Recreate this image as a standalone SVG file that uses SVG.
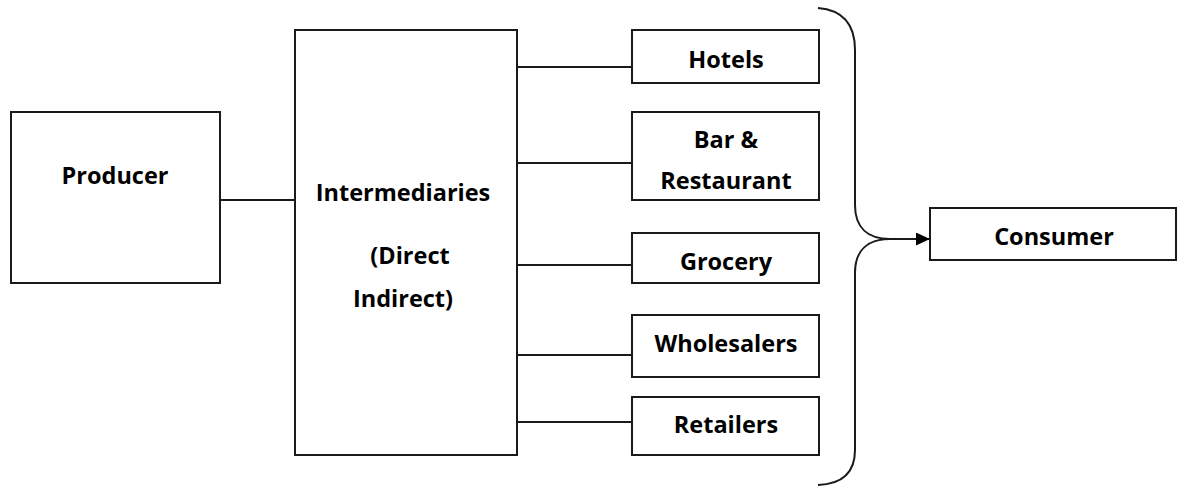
<svg xmlns="http://www.w3.org/2000/svg" width="1177" height="486" viewBox="0 0 1177 486">
<style>
.box{fill:#fff;stroke:#1a1a1a;stroke-width:2}
.ln{fill:none;stroke:#1a1a1a;stroke-width:2}
.t{font-family:"Open Sans","Liberation Sans",sans-serif;font-weight:bold;font-size:23.5px;fill:#000;text-anchor:middle}
</style>
<defs>
<marker id="arr" markerWidth="14" markerHeight="14" refX="14" refY="6.5" orient="auto" markerUnits="userSpaceOnUse">
<path d="M0,0 L14,6.5 L0,13 Z" fill="#000"/>
</marker>
</defs>
<rect width="1177" height="486" fill="#fff"/>
<g id="connectors">
<line class="ln" x1="220" y1="200" x2="295" y2="200"/>
<line class="ln" x1="517" y1="67" x2="632" y2="67"/>
<line class="ln" x1="517" y1="163" x2="632" y2="163"/>
<line class="ln" x1="517" y1="265" x2="632" y2="265"/>
<line class="ln" x1="517" y1="355" x2="632" y2="355"/>
<line class="ln" x1="517" y1="422" x2="632" y2="422"/>
<path class="ln" d="M818,8 C843,10 855,24 855,50 L855,205 C855,228 868,239 890,239 C868,239 855,250 855,273 L855,450 C855,472 843,484 818,485"/>
<line class="ln" x1="890" y1="239" x2="930" y2="239" marker-end="url(#arr)"/>
</g>
<g id="producer">
<rect class="box" x="11" y="112" width="209" height="171"/>
<text class="t" x="115" y="184">Producer</text>
</g>
<g id="intermediaries">
<rect class="box" x="295" y="30" width="222" height="425"/>
<text class="t" x="403" y="201">Intermediaries</text>
<text class="t" x="410" y="264">(Direct</text>
<text class="t" x="403" y="307">Indirect)</text>
</g>
<g id="hotels">
<rect class="box" x="632" y="30" width="187" height="53"/>
<text class="t" x="726" y="68">Hotels</text>
</g>
<g id="bar">
<rect class="box" x="632" y="112" width="187" height="88"/>
<text class="t" x="726" y="148">Bar &amp;</text>
<text class="t" x="726" y="189">Restaurant</text>
</g>
<g id="grocery">
<rect class="box" x="632" y="233" width="187" height="50"/>
<text class="t" x="726" y="270">Grocery</text>
</g>
<g id="wholesalers">
<rect class="box" x="632" y="315" width="187" height="62"/>
<text class="t" x="726" y="352">Wholesalers</text>
</g>
<g id="retailers">
<rect class="box" x="632" y="397" width="187" height="58"/>
<text class="t" x="726" y="433">Retailers</text>
</g>
<g id="consumer">
<rect class="box" x="930" y="208" width="246" height="52"/>
<text class="t" x="1054" y="245">Consumer</text>
</g>
</svg>
